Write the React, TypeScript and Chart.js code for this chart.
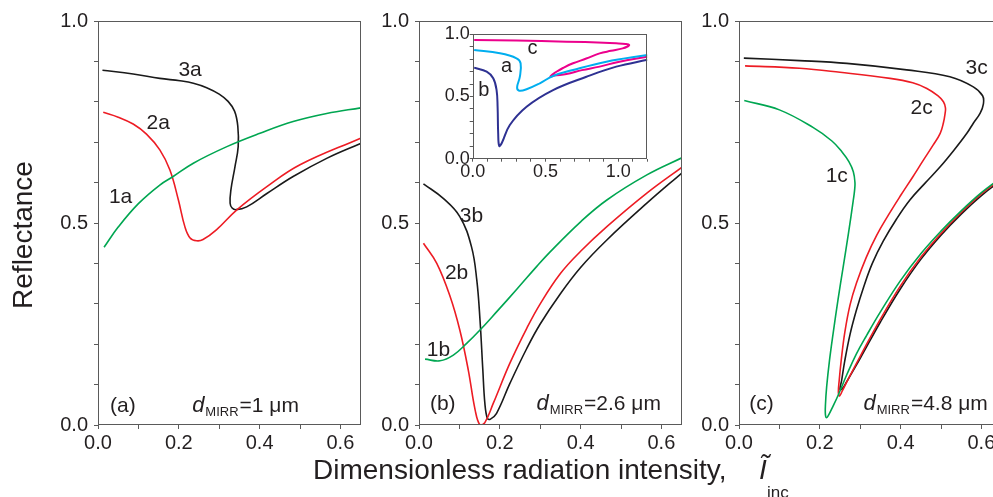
import React, { useEffect, useRef } from 'react';
import { Chart, registerables } from 'chart.js';
Chart.register(...registerables);

const FONT = "'Liberation Sans', Arial, Helvetica, sans-serif";
const TEXT = '#231f20';
const AXIS = '#5a5a5a';
const GREEN = '#00a651';
const RED = '#ed1c24';
const BLACK = '#1a1a1a';
const MAGENTA = '#ec008c';
const CYAN = '#00aeef';
const NAVY = '#2e3192';

// ---------- Panel (a): d_MIRR = 1 um ----------
const a1X = [0.015, 0.05, 0.1, 0.153, 0.186, 0.236, 0.319, 0.401, 0.483, 0.566, 0.65];
const a1Y = [0.44, 0.49, 0.548, 0.594, 0.615, 0.648, 0.689, 0.722, 0.751, 0.771, 0.785];
const a2X = [0.013, 0.05, 0.087, 0.12, 0.153, 0.178, 0.199, 0.215, 0.228, 0.244, 0.26, 0.293, 0.343, 0.418, 0.5, 0.65];
const a2Y = [0.774, 0.762, 0.745, 0.72, 0.681, 0.631, 0.557, 0.491, 0.463, 0.456, 0.459, 0.483, 0.532, 0.59, 0.644, 0.71];
const a3X = [0.011, 0.087, 0.153, 0.203, 0.236, 0.269, 0.3, 0.322, 0.338, 0.346, 0.347, 0.339, 0.329, 0.327, 0.332, 0.342, 0.368, 0.418, 0.483, 0.566, 0.65];
const a3Y = [0.878, 0.869, 0.858, 0.852, 0.846, 0.835, 0.819, 0.801, 0.777, 0.74, 0.689, 0.639, 0.582, 0.549, 0.537, 0.533, 0.54, 0.573, 0.615, 0.66, 0.697];

// ---------- Panel (b): d_MIRR = 2.6 um ----------
const b1X = [0.015, 0.052, 0.085, 0.118, 0.151, 0.192, 0.242, 0.291, 0.324, 0.4, 0.465, 0.564, 0.652];
const b1Y = [0.163, 0.159, 0.173, 0.202, 0.235, 0.28, 0.336, 0.392, 0.428, 0.503, 0.557, 0.619, 0.662];
const b2X = [0.011, 0.044, 0.077, 0.101, 0.122, 0.139, 0.151, 0.163, 0.184, 0.225, 0.267, 0.3, 0.35, 0.4, 0.465, 0.564, 0.652];
const b2Y = [0.45, 0.4, 0.318, 0.235, 0.136, 0.037, 0.0, 0.006, 0.054, 0.153, 0.24, 0.3, 0.375, 0.43, 0.491, 0.574, 0.639];
const b3X = [0.011, 0.06, 0.101, 0.13, 0.143, 0.151, 0.158, 0.163, 0.169, 0.176, 0.192, 0.225, 0.267, 0.3, 0.35, 0.4, 0.465, 0.564, 0.652];
const b3Y = [0.597, 0.561, 0.516, 0.441, 0.359, 0.26, 0.136, 0.054, 0.017, 0.014, 0.029, 0.103, 0.19, 0.25, 0.325, 0.39, 0.458, 0.549, 0.625];

// ---------- Panel (c): d_MIRR = 4.8 um ----------
const c1X = [0.013, 0.1, 0.184, 0.23, 0.255, 0.272, 0.283, 0.287, 0.286, 0.283, 0.271, 0.258, 0.245, 0.233, 0.224, 0.217, 0.214, 0.214, 0.217, 0.222, 0.232, 0.246, 0.267, 0.29, 0.316, 0.35, 0.4, 0.45, 0.5, 0.55, 0.6, 0.65];
const c1Y = [0.803, 0.78, 0.736, 0.703, 0.676, 0.652, 0.627, 0.6, 0.58, 0.557, 0.475, 0.392, 0.31, 0.227, 0.16, 0.095, 0.05, 0.025, 0.018, 0.025, 0.045, 0.075, 0.125, 0.175, 0.222, 0.28, 0.358, 0.424, 0.48, 0.53, 0.575, 0.613];
const c2X = [0.015, 0.15, 0.25, 0.374, 0.43, 0.465, 0.492, 0.506, 0.511, 0.51, 0.506, 0.498, 0.48, 0.456, 0.43, 0.4, 0.37, 0.341, 0.315, 0.291, 0.275, 0.262, 0.253, 0.248, 0.246, 0.249, 0.256, 0.27, 0.3, 0.35, 0.4, 0.45, 0.5, 0.55, 0.6, 0.65];
const c2Y = [0.889, 0.883, 0.873, 0.858, 0.847, 0.833, 0.815, 0.8, 0.785, 0.77, 0.748, 0.722, 0.692, 0.655, 0.614, 0.568, 0.52, 0.47, 0.415, 0.352, 0.298, 0.23, 0.16, 0.11, 0.08, 0.072, 0.085, 0.113, 0.17, 0.262, 0.345, 0.415, 0.474, 0.526, 0.572, 0.61];
const c3X = [0.012, 0.15, 0.267, 0.415, 0.522, 0.58, 0.603, 0.605, 0.597, 0.58, 0.564, 0.532, 0.498, 0.46, 0.423, 0.39, 0.357, 0.33, 0.308, 0.29, 0.275, 0.262, 0.254, 0.25, 0.256, 0.267, 0.3, 0.35, 0.4, 0.45, 0.5, 0.55, 0.6, 0.65];
const c3Y = [0.908, 0.902, 0.895, 0.879, 0.862, 0.837, 0.815, 0.795, 0.772, 0.747, 0.722, 0.68, 0.639, 0.598, 0.557, 0.51, 0.455, 0.4, 0.34, 0.282, 0.225, 0.16, 0.11, 0.088, 0.09, 0.108, 0.165, 0.255, 0.338, 0.41, 0.47, 0.522, 0.568, 0.606];

// ---------- Inset (panel b) ----------
const insCX = [0.01, 0.3, 0.644, 0.9, 0.986, 1.05, 1.075, 1.06, 1.03, 0.95, 0.872, 0.78, 0.689, 0.62, 0.575, 0.545, 0.534, 0.56, 0.644, 0.75, 0.872, 1.0, 1.2];
const insCY = [0.954, 0.95, 0.941, 0.933, 0.928, 0.922, 0.914, 0.9, 0.887, 0.867, 0.847, 0.805, 0.767, 0.729, 0.699, 0.675, 0.659, 0.668, 0.681, 0.712, 0.74, 0.778, 0.82];
const insAX = [0.01, 0.187, 0.301, 0.329, 0.324, 0.305, 0.319, 0.37, 0.461, 0.552, 0.689, 0.918, 1.2];
const insAY = [0.874, 0.847, 0.807, 0.767, 0.659, 0.574, 0.547, 0.558, 0.606, 0.665, 0.713, 0.78, 0.834];
const insBX = [0.01, 0.096, 0.141, 0.164, 0.171, 0.175, 0.182, 0.199, 0.255, 0.37, 0.552, 0.781, 0.986, 1.2];
const insBY = [0.732, 0.699, 0.646, 0.552, 0.418, 0.204, 0.102, 0.124, 0.271, 0.418, 0.552, 0.659, 0.74, 0.795];

// ---------- Tick labels ----------
const mainXTicks = ['0.0', '0.2', '0.4', '0.6'];
const mainYTicks = ['0.0', '0.5', '1.0'];
const insetXTicks = ['0.0', '0.5', '1.0'];
const insetYTicks = ['0.0', '0.5', '1.0'];

// ---------- Annotations (data coordinates) ----------
const annA = [
  { kind: 'curve', text: '3a', x: 0.228, y: 0.879 },
  { kind: 'curve', text: '2a', x: 0.149, y: 0.747 },
  { kind: 'curve', text: '1a', x: 0.056, y: 0.565 },
  { kind: 'tag', text: '(a)', x: 0.03, y: 0.033 },
  { kind: 'thick', text: '=1 μm', x: 0.233, y: 0.033 },
];
const annB = [
  { kind: 'curve', text: '3b', x: 0.13, y: 0.516 },
  { kind: 'curve', text: '2b', x: 0.093, y: 0.375 },
  { kind: 'curve', text: '1b', x: 0.048, y: 0.186 },
  { kind: 'tag', text: '(b)', x: 0.027, y: 0.037 },
  { kind: 'thick', text: '=2.6 μm', x: 0.291, y: 0.037 },
];
const annC = [
  { kind: 'curve', text: '3c', x: 0.588, y: 0.883 },
  { kind: 'curve', text: '2c', x: 0.452, y: 0.784 },
  { kind: 'curve', text: '1c', x: 0.242, y: 0.615 },
  { kind: 'tag', text: '(c)', x: 0.0255, y: 0.037 },
  { kind: 'thick', text: '=4.8 μm', x: 0.308, y: 0.037 },
];
const annInset = [
  { kind: 'curve', text: 'c', x: 0.411, y: 0.887 },
  { kind: 'curve', text: 'a', x: 0.233, y: 0.74 },
  { kind: 'curve', text: 'b', x: 0.077, y: 0.552 },
];

const pts = (xs: number[], ys: number[]) => xs.map((x, i) => ({ x, y: ys[i] }));

const CW = 1010;
const CH = 497;

const annotPlugin = {
  id: 'annot',
  afterDatasetsDraw(chart: any, _a: any, opts: any) {
    const items = (opts && opts.items) || [];
    const ctx = chart.ctx;
    const sx = chart.scales.x;
    const sy = chart.scales.y;
    ctx.save();
    ctx.fillStyle = TEXT;
    for (const it of items) {
      const px = sx.getPixelForValue(it.x);
      const py = sy.getPixelForValue(it.y);
      if (it.kind === 'curve') {
        ctx.font = `${opts.size || 21}px ${FONT}`;
        ctx.textAlign = 'center';
        ctx.textBaseline = 'middle';
        ctx.fillText(it.text, px, py);
      } else if (it.kind === 'tag') {
        ctx.font = `21px ${FONT}`;
        ctx.textAlign = 'left';
        ctx.textBaseline = 'alphabetic';
        ctx.fillText(it.text, px, py);
      } else {
        ctx.textAlign = 'left';
        ctx.textBaseline = 'alphabetic';
        ctx.font = `italic 22px ${FONT}`;
        ctx.fillText('d', px, py);
        let cx = px + ctx.measureText('d').width + 1;
        ctx.font = `13px ${FONT}`;
        ctx.fillText('MIRR', cx, py + 4);
        cx += ctx.measureText('MIRR').width + 1;
        ctx.font = `21px ${FONT}`;
        ctx.fillText(it.text, cx, py);
      }
    }
    ctx.restore();
  },
};

const framePlugin = {
  id: 'frame',
  afterDraw(chart: any) {
    const { left, top, right, bottom } = chart.chartArea;
    const ctx = chart.ctx;
    ctx.save();
    ctx.strokeStyle = AXIS;
    ctx.lineWidth = 1;
    const l = Math.round(left) + 0.5;
    const t = Math.round(top) + 0.5;
    const r = Math.round(right) - 0.5;
    const b = Math.round(bottom) - 0.5;
    ctx.strokeRect(l, t, r - l, b - t);
    ctx.restore();
  },
};

function scaleCfg(axis: 'x' | 'y', max: number, labels: string[], size: number, tickLen: number, pad: number, lineHeight: number, fit: number) {
  return {
    type: 'linear',
    min: 0,
    max,
    afterFit: (s: any) => {
      if (axis === 'x') s.height = fit;
      else s.width = fit;
    },
    ticks: {
      stepSize: 0.1,
      autoSkip: false,
      includeBounds: false,
      maxRotation: 0,
      minRotation: 0,
      color: TEXT,
      padding: pad,
      font: { family: FONT, size, lineHeight },
      callback: (v: any) => {
        const k = (Math.round(Number(v) * 10) / 10).toFixed(1);
        return labels.includes(k) ? k : '';
      },
    },
    grid: {
      drawOnChartArea: false,
      drawTicks: true,
      tickLength: tickLen,
      tickColor: AXIS,
      tickWidth: 1,
      color: AXIS,
    },
    border: { display: false },
  };
}

type PanelDef = {
  rect: { left: number; top: number; right: number; bottom: number };
  xMax: number;
  series: { xs: number[]; ys: number[]; color: string }[];
  ann: any[];
  inset?: boolean;
};

const PANELS: PanelDef[] = [
  {
    rect: { left: 98, top: 21, right: 98 + 0.65 * 404, bottom: 425 },
    xMax: 0.65,
    series: [
      { xs: a1X, ys: a1Y, color: GREEN },
      { xs: a2X, ys: a2Y, color: RED },
      { xs: a3X, ys: a3Y, color: BLACK },
    ],
    ann: annA,
  },
  {
    rect: { left: 419, top: 21, right: 419 + 0.65 * 404, bottom: 425 },
    xMax: 0.65,
    series: [
      { xs: b1X, ys: b1Y, color: GREEN },
      { xs: b2X, ys: b2Y, color: RED },
      { xs: b3X, ys: b3Y, color: BLACK },
    ],
    ann: annB,
  },
  {
    rect: { left: 739, top: 21, right: 739 + 0.65 * 404, bottom: 425 },
    xMax: 0.65,
    series: [
      { xs: c1X, ys: c1Y, color: GREEN },
      { xs: c2X, ys: c2Y, color: RED },
      { xs: c3X, ys: c3Y, color: BLACK },
    ],
    ann: annC,
  },
  {
    rect: { left: 472.7, top: 34.3, right: 472.7 + 1.2 * 145.6, bottom: 158.7 },
    xMax: 1.2,
    series: [
      { xs: insBX, ys: insBY, color: NAVY },
      { xs: insAX, ys: insAY, color: CYAN },
      { xs: insCX, ys: insCY, color: MAGENTA },
    ],
    ann: annInset,
    inset: true,
  },
];

function buildConfig(p: PanelDef): any {
  const inset = !!p.inset;
  const yW = inset ? 40 : 60;
  const xH = inset ? 30 : 40;
  return {
    type: 'line',
    data: {
      datasets: p.series.map((s) => ({
        data: pts(s.xs, s.ys),
        borderColor: s.color,
        backgroundColor: s.color,
        borderWidth: inset ? 2 : 1.6,
        pointRadius: 0,
        tension: 0.4,
        fill: false,
      })),
    },
    options: {
      animation: false,
      responsive: false,
      maintainAspectRatio: false,
      devicePixelRatio: 1,
      events: [],
      layout: {
        padding: {
          left: p.rect.left - yW,
          top: p.rect.top,
          right: CW - p.rect.right,
          bottom: CH - p.rect.bottom - xH,
        },
      },
      scales: {
        x: inset
          ? scaleCfg('x', p.xMax, insetXTicks, 18, 3, 1, 1, xH)
          : scaleCfg('x', p.xMax, mainXTicks, 20, 4, 2, 1.2, xH),
        y: inset
          ? scaleCfg('y', 1, insetYTicks, 18, 3, 0, 1, yW)
          : scaleCfg('y', 1, mainYTicks, 20, 4, 6, 1.2, yW),
      },
      plugins: {
        legend: { display: false },
        tooltip: { enabled: false },
        title: { display: false },
        annot: { items: p.ann, size: inset ? 20 : 21 },
      },
    },
    plugins: [annotPlugin, framePlugin],
  };
}

export default function App() {
  const refs = [useRef<HTMLCanvasElement>(null), useRef<HTMLCanvasElement>(null), useRef<HTMLCanvasElement>(null), useRef<HTMLCanvasElement>(null)];
  useEffect(() => {
    const charts: Chart[] = [];
    PANELS.forEach((p, i) => {
      const c = refs[i].current;
      if (c) charts.push(new Chart(c, buildConfig(p)));
    });
    return () => charts.forEach((c) => c.destroy());
  }, []);

  const canvasStyle: React.CSSProperties = { position: 'absolute', left: 0, top: 0, width: CW, height: CH };
  return (
    <div style={{ position: 'fixed', left: 0, top: 0, width: 993, height: 497, overflow: 'hidden', background: '#fff' }}>
      {refs.map((r, i) => (
        <canvas key={i} ref={r} width={CW} height={CH} style={canvasStyle} />
      ))}
      <div
        style={{
          position: 'absolute', left: -77, top: 221, width: 200, height: 28, lineHeight: '28px',
          fontSize: 28, fontFamily: FONT, color: TEXT, textAlign: 'center', transform: 'rotate(-90deg)', whiteSpace: 'nowrap',
        }}
      >
        Reflectance
      </div>
      <div
        style={{
          position: 'absolute', left: 313, top: 456, height: 28, lineHeight: '28px',
          fontSize: 28, fontFamily: FONT, color: TEXT, whiteSpace: 'nowrap',
        }}
      >
        Dimensionless radiation intensity,
      </div>
      <div
        style={{
          position: 'absolute', left: 759, top: 456, height: 28, lineHeight: '28px',
          fontSize: 28, fontFamily: FONT, fontStyle: 'italic', color: TEXT, whiteSpace: 'nowrap',
        }}
      >
        Ĩ
      </div>
      <div
        style={{
          position: 'absolute', left: 767, top: 484, height: 17, lineHeight: '17px',
          fontSize: 17, fontFamily: FONT, color: TEXT, whiteSpace: 'nowrap',
        }}
      >
        inc
      </div>
    </div>
  );
}
